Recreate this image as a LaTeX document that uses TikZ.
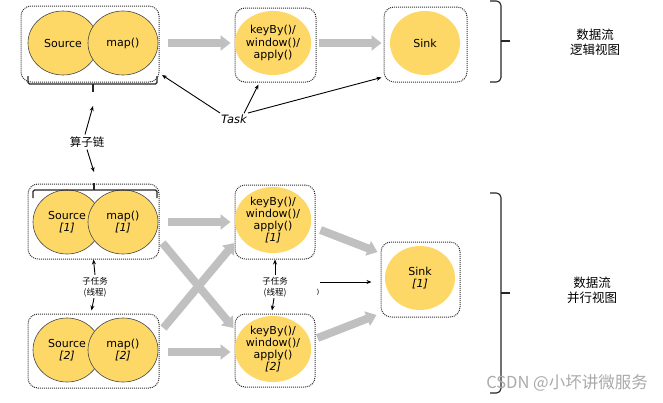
\documentclass[tikz,border=0pt]{standalone}
\usepackage{fontspec}
\setmainfont{DejaVu Sans}
\newfontfamily\cjk{Noto Sans CJK SC}
\usetikzlibrary{arrows.meta,shapes.geometric,calc}
\definecolor{yel}{RGB}{254,216,102}
\definecolor{garr}{RGB}{192,192,192}
\definecolor{edgec}{RGB}{50,50,50}
\definecolor{wm}{RGB}{170,170,170}
\begin{document}
\begin{tikzpicture}[x=1pt,y=-1pt,
 box/.style={draw=edgec, line width=1pt, dash pattern=on 1pt off 1pt, rounded corners=10pt, rectangle, inner sep=0pt},
 opov/.style={ellipse, fill=yel, draw=edgec!90, line width=0.6pt, minimum width=70pt, minimum height=64pt, inner sep=0pt, align=center, font=\fontsize{11}{12.3}\selectfont},
 opnb/.style={opov, draw=none},
 garrow/.style={draw=garr, line width=8pt, -{Triangle[width=15pt,length=10pt]}},
 barrow/.style={draw=black, line width=0.9pt, -{Stealth[length=5pt,width=4pt]}},
 brace/.style={draw=black!85, line width=1.1pt, rounded corners=1.5pt},
 cjklab/.style={font=\cjk\fontsize{12.5}{15}\selectfont, align=center, inner sep=0pt},
 smalllab/.style={font=\cjk\fontsize{8.5}{11}\selectfont, align=center, inner sep=0pt}
]
\useasboundingbox (0,0) rectangle (663,402);
\fill[white] (0,0) rectangle (663,402);

% ---------- logical view ----------
\node[box, minimum width=138pt, minimum height=76pt] (smT) at (90,44) {};
\node[opov] (srcT) at (63,43) {Source};
\node[opov] (mapT) at (123,43) {map()};
\node[box, minimum width=81pt, minimum height=74pt] (kbT) at (275.5,45) {};
\node[opnb] (kbTe) at (273,43) {keyBy()/\\window()/\\apply()};
\node[box, minimum width=83pt, minimum height=75pt] (skT) at (425.5,44.5) {};
\node[opnb] (skTe) at (425,43) {Sink};

\draw[garrow, shorten <=8pt, shorten >=4pt] (smT.east |- srcT) -- (kbT.west |- srcT);
\draw[garrow, shorten <=2pt, shorten >=2pt] (kbT.east |- srcT) -- (skT.west |- srcT);

% brace under top chain
\coordinate (braceTtip) at (93,92);
\draw[brace] (28,76) |- (93,84) -| (157,76);
\draw[brace] (93,84) -- (braceTtip);

% Task
\node[font=\itshape\fontsize{11.5}{13}\selectfont, inner sep=1pt] (task) at (234,119) {Task};
\draw[barrow] (task.west) ++(0,-6) coordinate (t1) -- (162,75) coordinate (t1e);
\draw[barrow] (task.north) ++(10,0) -- ($(kbT.south)+(-17,2)$);
\draw[barrow] (task.east) ++(0,-6) -- ($(skT.south west)+(-2,-5)$);

% operator chain label
\node[cjklab, font=\cjk\fontsize{11.5}{14}\selectfont] (chain) at (87,142) {算子链};
\coordinate (braceBtip) at (94,183);
\draw[barrow] (chain.north) ++(-2,-2) -- ($(braceTtip)+(0,14)$);
\draw[barrow] (chain.south) ++(0,2) -- ($(braceBtip)+(0,-11)$);

% right brace top
\draw[brace] (490,1) -- (498,1) -- (501,4) -- (501,79) -- (498,82) -- (490,82);
\draw[brace] (501,41) -- (510,41) coordinate (rbT);
\node[cjklab] (lvT) at (595,42.5) {数据流\\逻辑视图};

% ---------- parallel view ----------
\node[box, minimum width=131pt, minimum height=75pt] (sm1) at (93.5,221.5) {};
\node[opov, minimum width=68pt] (src1) at (67,222) {Source\\\textit{[1]}};
\node[opov] (map1) at (123,222) {map()\\\textit{[1]}};
\draw[brace] (33,198) |- (94,190) -| (157,198);
\draw[brace] (94,190) -- (braceBtip);

\node[box, minimum width=131pt, minimum height=74pt] (sm2) at (93.5,351) {};
\node[opov, minimum width=68pt] (src2) at (67,350) {Source\\\textit{[2]}};
\node[opov] (map2) at (123,350) {map()\\\textit{[2]}};

\node[box, minimum width=80pt, minimum height=74pt] (kb1) at (275,222) {};
\node[opnb, minimum height=66pt] (kb1e) at (273,220) {keyBy()/\\window()/\\apply()\\\textit{[1]}};
\node[box, minimum width=80pt, minimum height=73pt] (kb2) at (275,350.5) {};
\node[opnb, minimum height=66pt] (kb2e) at (273,349) {keyBy()/\\window()/\\apply()\\\textit{[2]}};

\node[box, minimum width=79pt, minimum height=75pt] (sk1) at (420.5,279.5) {};
\node[opnb] (sk1e) at (420,278) {Sink\\\textit{[1]}};

% gray data arrows
\draw[garrow] ($(sm1.east)+(8,0.5)$) -- ($(kb1.west)+(-4,0)$);
\draw[garrow] ($(sm2.east)+(8,1)$) -- ($(kb2.west)+(-4,1.5)$);
\draw[garrow] ($(sm1.east)+(3,21.5)$) -- ($(kb2.west)+(-1,-22.5)$);
\draw[garrow] ($(sm2.east)+(4,-23)$) -- ($(kb1.west)+(0,21)$);
\draw[garrow] ($(kb1.east)+(5,8)$) -- ($(sk1.west)+(-3,-27.5)$);
\draw[garrow] ($(kb2.east)+(2,-12.5)$) -- ($(sk1.west)+(-4,35.5)$);

% black arrow to sink
\coordinate (bstart) at (320,282);
\draw[barrow] (bstart) -- ($(sk1.west)+(-9,2.5)$);
\node[font=\fontsize{7}{8}\selectfont, inner sep=0pt] (paren) at (318,292) {)};

% subtask labels
\node[smalllab] (sub1) at (95,287) {子任务\\(线程)};
\draw[barrow] (sub1.north) ++(0,-2) -- (sm1.south);
\draw[barrow] (sub1.south) ++(-1,1) -- ($(sm2.north)+(-2,-3)$);
\node[smalllab] (sub2) at (275,287) {子任务\\(线程)};
\draw[barrow] (sub2.north) ++(0,-2) -- (kb1.south);
\draw[barrow] (sub2.south) ++(-1,1) -- ($(kb2.north)+(-3,-3)$);

% right brace bottom
\draw[brace] (490,193) -- (498,193) -- (501,196) -- (501,390) -- (498,393) -- (490,393);
\draw[brace] (501,293) -- (510,293) coordinate (rbB);
\node[cjklab] (lvB) at (592,290.5) {数据流\\并行视图};

% watermark
\node[font=\cjk\fontsize{16.5}{18}\selectfont, text=wm, inner sep=0pt, anchor=east] (wmk) at (648,383) {CSDN @小坏讲微服务};
\end{tikzpicture}
\end{document}
